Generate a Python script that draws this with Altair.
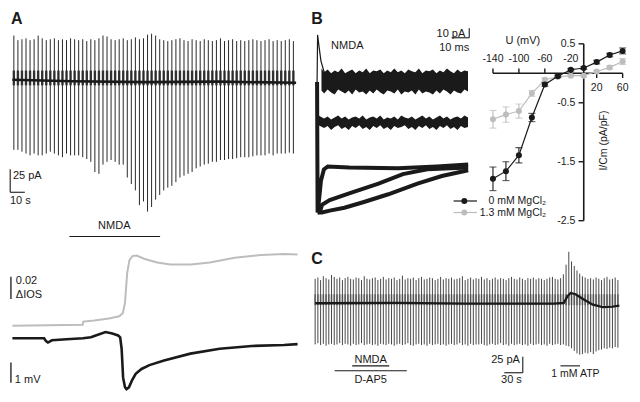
import altair as alt
import pandas as pd

# ---------------- layout helpers (reference pixel -> chart pixel) ----------------
W, H = 624, 386
SX, SY = W / 640.0, H / 402.0
def X(p): return p * SX
def Y(p): return p * SY

FONT = "Liberation Sans"
INK = "#1a1a1a"
GREY = "#bdbdbd"
ONE = pd.DataFrame({"k": [0]})

# ---------------- data ----------------
# Panel A (top): test-pulse currents, pA
A_PERIOD = 2.77  # s between pulses
a_tops = [50, 45, 46, 47, 45, 46, 50, 47, 45, 46, 47, 45, 46, 45, 47, 46, 45, 46, 44, 46,
          45, 47, 50, 49, 46, 45, 46, 47, 45, 46, 48, 46, 47, 51, 52, 50, 46, 45, 44, 45,
          46, 47, 45, 44, 46, 45, 44, 46, 45, 44, 45, 47, 44, 45, 46, 44, 45, 44, 45, 46,
          45, 44, 45, 46, 44, 45, 44, 45, 46, 44]
a_bottoms = [-74, -74, -76, -78, -80, -78, -80, -80, -78, -76, -78, -80, -82, -78, -80, -80, -80, -82, -84, -87,
             -98, -100, -90, -87, -85, -87, -90, -90, -104, -111, -118, -134, -130, -141, -136, -128, -123, -118, -115, -113,
             -109, -104, -102, -100, -98, -94, -92, -90, -89, -87, -87, -85, -85, -84, -84, -83, -82, -82, -82, -81,
             -80, -80, -80, -78, -80, -78, -78, -78, -77, -78]
a_base_t = [-1, 40, 90, 140, 193]
a_base_v = [2, 0.5, -0.5, 0, -1.2]

# Panel A (bottom): intrinsic optical signal and field potential
ios_t = [-1, 47, 47.5, 55, 65, 72, 74.5, 76, 77.5, 79, 81, 84, 89, 98, 107, 121, 134, 151, 169, 185, 194]
ios_v = [0, 0.001, 0.004, 0.005, 0.007, 0.009, 0.012, 0.022, 0.05, 0.062, 0.066, 0.0665, 0.0635,
         0.06, 0.058, 0.058, 0.06, 0.0645, 0.067, 0.068, 0.0675]
mv_t = [-1, 20.7, 22, 23.3, 26, 36, 47.3, 52.7, 56, 62.7, 67.3, 71.3, 72.7, 73.7, 74.7, 76, 77,
        78.7, 80.7, 83.3, 87.3, 92.7, 102.7, 120.7, 140.7, 162.7, 184.7, 194]
mv_v = [0, 0, -0.14, -0.21, -0.1, -0.05, 0, 0.05, 0.14, 0.31, 0.24, 0.14, 0.05, -0.52, -1.95, -2.43,
        -2.52, -2.43, -2.1, -1.76, -1.52, -1.33, -1.1, -0.76, -0.52, -0.38, -0.33, -0.29]

# Panel B: NMDA currents (ms, pA) - envelopes of the noisy sweeps
b_top_t = [2.5, 4, 6, 8, 10, 12, 14, 16, 18, 20, 22, 24, 26, 28, 30, 32, 34, 36, 38, 40, 42, 44,
           46, 48, 50, 52, 54, 56, 58, 60, 62, 64, 66, 68, 70, 72, 74, 76, 78, 80, 82, 84, 86]
b_top_hi = [14, 10, 13, 9, 12, 10, 14, 9, 11, 13, 9, 12, 10, 14, 9, 12, 11, 13, 9, 12, 10, 14,
            10, 12, 9, 13, 11, 10, 14, 9, 12, 11, 13, 9, 12, 10, 14, 11, 9, 13, 10, 12, 11]
b_top_lo = [-9, -12, -8, -11, -13, -8, -10, -12, -9, -13, -8, -11, -10, -13, -9, -12, -8, -11, -13, -9, -10, -12,
            -8, -13, -10, -11, -9, -13, -8, -12, -10, -11, -13, -9, -12, -8, -10, -13, -9, -11, -12, -8, -10]
b_mid_t = [0.8, 4, 6, 8, 10, 12, 14, 16, 18, 20, 22, 24, 26, 28, 30, 32, 34, 36, 38, 40, 42, 44,
           46, 48, 50, 52, 54, 56, 58, 60, 62, 64, 66, 68, 70, 72, 74, 76, 78, 80, 82, 84, 86]
b_mid_hi = [-35, -38, -36, -39, -37, -35, -38, -36, -39, -37, -36, -38, -35, -39, -37, -36, -38, -35, -39, -37, -38, -36,
            -39, -35, -37, -38, -36, -39, -37, -35, -38, -36, -39, -37, -35, -38, -36, -39, -37, -36, -38, -35, -37]
b_mid_lo = [-45, -48, -46, -50, -47, -45, -49, -47, -50, -46, -48, -45, -49, -47, -50, -46, -48, -45, -49, -47, -50, -46,
            -48, -47, -45, -49, -47, -50, -46, -48, -45, -49, -47, -50, -46, -48, -45, -49, -47, -50, -46, -48, -47]
b_tr_up_t = [0, 0.3, 1.1, 2.2, 3.9, 6.1]
b_tr_up_v = [0, 49, 37, 22, 11, 5]
b_tr1_t = [0, 0.3, 1.1, 2.2, 3.9, 6.1, 18.3, 46.1, 68.3, 86.1]
b_tr1_v = [0, -136, -123, -103, -91, -88, -89, -90, -88, -86]
b_tr2_t = [0.3, 1.7, 2.8, 7.2, 18.3, 35, 48.9, 62.8, 86.1]
b_tr2_v = [-136, -135, -128, -123, -116, -106, -96, -91, -89]
b_tr3_t = [0.3, 2.8, 7.2, 15.6, 26.7, 40.6, 57.2, 71.1, 86.1]
b_tr3_v = [-136, -136, -134, -131, -125, -117, -106, -98, -92]

# Panel B: I-V relation
iv_mv = [-140, -120, -100, -80, -60, -40, -20, 0, 20, 40, 60]
mg0_i = [-1.79, -1.66, -1.39, -0.75, -0.19, -0.05, 0.06, 0.09, 0.19, 0.31, 0.38]
mg0_e = [0.20, 0.16, 0.13, 0.07, 0.03, 0.02, 0.02, 0.02, 0.03, 0.03, 0.05]
mg13_i = [-0.78, -0.70, -0.64, -0.34, -0.11, -0.06, -0.04, -0.04, 0.03, 0.10, 0.20]
mg13_e = [0.15, 0.13, 0.12, 0.05, 0.03, 0.02, 0.02, 0.02, 0.02, 0.03, 0.05]
iv_xticks_neg = [-140, -100, -60, -20]
iv_xticks_pos = [20, 60]
iv_yticks = [0.5, -0.5, -1.5, -2.5]

# Panel C: test-pulse currents, pA
C_PERIOD = 4.42
c_tops = [38, 40, 36, 42, 39, 37, 44, 41, 38, 40, 36, 39, 41, 38, 37, 40, 39, 36, 42, 38,
          37, 39, 40, 36, 38, 41, 37, 39, 38, 40, 36, 38, 43, 37, 39, 38, 40, 36, 39, 41,
          37, 38, 40, 39, 36, 38, 41, 37, 39, 38, 40, 37, 38, 39, 42, 36, 38, 40, 37, 39,
          38, 41, 37, 39, 36, 38, 40, 37, 39, 38, 36, 39, 41, 38, 37, 40, 38, 36, 39, 38,
          40, 37, 39, 38, 36, 38, 40, 41, 38, 37, 39, 45, 60, 80, 65, 58, 51, 46, 42, 40,
          38, 39, 37, 40, 38, 36, 39, 41, 37, 38, 40, 36]
c_bottoms = [-64, -62, -65, -63, -66, -64, -63, -65, -64, -62, -65, -63, -64, -66, -63, -65, -64, -62, -65, -64,
             -63, -65, -64, -66, -63, -64, -65, -63, -64, -66, -64, -63, -65, -64, -62, -65, -66, -64, -63, -65,
             -64, -66, -63, -65, -64, -63, -65, -64, -66, -64, -63, -65, -64, -62, -65, -64, -66, -63, -65, -64,
             -64, -63, -65, -66, -64, -63, -65, -64, -62, -65, -64, -66, -63, -65, -64, -63, -65, -64, -66, -63,
             -65, -64, -63, -65, -64, -66, -63, -65, -64, -63, -65, -64, -66, -67, -70, -74, -78, -80, -79, -77,
             -78, -76, -79, -75, -73, -72, -70, -71, -69, -70, -68, -69]
c_base_t = [0, 134, 245, 387, 403, 409, 414, 422, 434, 450, 466, 482, 493]
c_base_v = [0, 0.7, -0.7, -0.7, 0.7, 11, 16, 14, 6.7, -2.2, -6, -5.2, -3.7]


# ---------------- helpers ----------------
def sc(domain, r0, r1):
    return alt.Scale(domain=domain, range=[r0, r1], nice=False, zero=False)


def label(txt, x, y, size=10.5, align="left", baseline="middle", weight="normal", angle=0, color=INK):
    kw = dict(text=txt, fontSize=size, align=align, baseline=baseline, font=FONT,
              fontWeight=weight, color=color)
    if angle:
        kw["angle"] = angle
    return alt.Chart(ONE).mark_text(**kw).encode(x=alt.value(X(x)), y=alt.value(Y(y)))


def hbar(x0, x1, y, color=INK, sw=1.1):
    return alt.Chart(ONE).mark_rule(color=color, strokeWidth=sw).encode(
        x=alt.value(X(x0)), x2=alt.value(X(x1)), y=alt.value(Y(y)))


layers = []

# ---------------- Panel A top ----------------
ax = sc([-3, 195], X(1.5), X(298.5))
ay = sc([-160, 60], Y(230.3), Y(19.1))
dfA = pd.DataFrame({"t": [i * A_PERIOD for i in range(len(a_tops))], "top": a_tops, "bot": a_bottoms})
a_sp = alt.Chart(dfA).mark_rule(color="#2b2b2b", strokeWidth=1).encode(
    x=alt.X("t:Q", scale=ax, axis=None), y=alt.Y("bot:Q", scale=ay, axis=None), y2="top:Q")
a_comb = alt.Chart(dfA).mark_rule(color="#3a3a3a", strokeWidth=2.4).encode(
    x=alt.X("t:Q", scale=ax, axis=None), y=alt.YDatum(-4, scale=ay, axis=None), y2=alt.Y2Datum(12))
a_base = alt.Chart(pd.DataFrame({"t": a_base_t, "v": a_base_v})).mark_line(color=INK, strokeWidth=2.6).encode(
    x=alt.X("t:Q", scale=ax, axis=None), y=alt.Y("v:Q", scale=ay, axis=None))
a_sb = alt.Chart(pd.DataFrame({"x": [-2.5, -2.5], "x2": [-2.5, 7.5], "y": [-95, -120], "y2": [-120, -120]})).mark_rule(
    color=INK, strokeWidth=1.1).encode(
    x=alt.X("x:Q", scale=ax, axis=None), x2="x2:Q", y=alt.Y("y:Q", scale=ay, axis=None), y2="y2:Q")
a_nmda = alt.Chart(pd.DataFrame({"x": [38], "x2": [100]})).mark_rule(color=INK, strokeWidth=1.1).encode(
    x=alt.X("x:Q", scale=ax, axis=None), x2="x2:Q", y=alt.value(Y(238)))
layers.append(alt.layer(a_comb, a_sp, a_base, a_sb, a_nmda).resolve_scale(x="shared", y="shared"))

# ---------------- Panel A bottom: IOS ----------------
iy = sc([0, 0.08], Y(331), Y(243))
ios = alt.Chart(pd.DataFrame({"t": ios_t, "v": ios_v})).mark_line(color=GREY, strokeWidth=2).encode(
    x=alt.X("t:Q", scale=ax, axis=None), y=alt.Y("v:Q", scale=iy, axis=None))
ios_sb = alt.Chart(pd.DataFrame({"x": [-2], "y": [0.0255], "y2": [0.0465]})).mark_rule(color=INK, strokeWidth=1.3).encode(
    x=alt.X("x:Q", scale=ax, axis=None), y=alt.Y("y:Q", scale=iy, axis=None), y2="y2:Q")
layers.append(alt.layer(ios, ios_sb).resolve_scale(x="shared", y="shared"))

# ---------------- Panel A bottom: mV ----------------
my = sc([-3, 1], Y(407), Y(323))
mv = alt.Chart(pd.DataFrame({"t": mv_t, "v": mv_v})).mark_line(color=INK, strokeWidth=2.6).encode(
    x=alt.X("t:Q", scale=ax, axis=None), y=alt.Y("v:Q", scale=my, axis=None))
mv_sb = alt.Chart(pd.DataFrame({"x": [-2], "y": [-1.2], "y2": [-2.2]})).mark_rule(color=INK, strokeWidth=1.3).encode(
    x=alt.X("x:Q", scale=ax, axis=None), y=alt.Y("y:Q", scale=my, axis=None), y2="y2:Q")
layers.append(alt.layer(mv, mv_sb).resolve_scale(x="shared", y="shared"))

# ---------------- Panel B traces ----------------
bx = sc([-5, 90], X(308), X(479))
by = sc([-150, 50], Y(227), Y(27))
def bline(ts, vs, sw):
    return alt.Chart(pd.DataFrame({"t": ts, "v": vs})).mark_line(color=INK, strokeWidth=sw).encode(
        x=alt.X("t:Q", scale=bx, axis=None), y=alt.Y("v:Q", scale=by, axis=None))
def bband(ts, hi, lo):
    return alt.Chart(pd.DataFrame({"t": ts, "hi": hi, "lo": lo})).mark_area(color=INK).encode(
        x=alt.X("t:Q", scale=bx, axis=None), y=alt.Y("hi:Q", scale=by, axis=None), y2="lo:Q")
b_sb = alt.Chart(pd.DataFrame({"x": [86.7, 76.7], "x2": [86.7, 86.7], "y": [56, 46], "y2": [46, 46]})).mark_rule(
    color=INK, strokeWidth=1.1).encode(
    x=alt.X("x:Q", scale=bx, axis=None), x2="x2:Q", y=alt.Y("y:Q", scale=by, axis=None), y2="y2:Q")
layers.append(alt.layer(
    bband(b_top_t, b_top_hi, b_top_lo), bband(b_mid_t, b_mid_hi, b_mid_lo),
    bline(b_tr_up_t, b_tr_up_v, 1.2), bline(b_tr1_t, b_tr1_v, 4), bline(b_tr2_t, b_tr2_v, 4),
    bline(b_tr3_t, b_tr3_v, 4), b_sb).resolve_scale(x="shared", y="shared"))

# ---------------- Panel B: I-V plot ----------------
vx = sc([-140, 60], X(497.4), X(630.4))
vy = sc([-2.5, 0.5], Y(221.5), Y(37.3))
XE = dict(scale=vx, axis=None)
YE = dict(scale=vy, axis=None)
axis_lines = alt.Chart(pd.DataFrame({"x": [-140, 0], "x2": [60, 0], "y": [0, -2.5], "y2": [0, 0.5]})).mark_rule(
    color=INK, strokeWidth=1.6).encode(x=alt.X("x:Q", **XE), x2="x2:Q", y=alt.Y("y:Q", **YE), y2="y2:Q")
xt_neg = alt.Chart(pd.DataFrame({"v": iv_xticks_neg})).mark_rule(color=INK, strokeWidth=1.4).encode(
    x=alt.X("v:Q", **XE), y=alt.YDatum(0, **YE), y2=alt.Y2Datum(0.08))
xt_pos = alt.Chart(pd.DataFrame({"v": iv_xticks_pos})).mark_rule(color=INK, strokeWidth=1.4).encode(
    x=alt.X("v:Q", **XE), y=alt.YDatum(0, **YE), y2=alt.Y2Datum(-0.08))
yt = alt.Chart(pd.DataFrame({"v": iv_yticks})).mark_rule(color=INK, strokeWidth=1.4).encode(
    y=alt.Y("v:Q", **YE), x=alt.XDatum(-8, **XE), x2=alt.X2Datum(0))
xl_neg = alt.Chart(pd.DataFrame({"v": iv_xticks_neg, "s": [str(v) for v in iv_xticks_neg]})).mark_text(
    font=FONT, fontSize=10.5, color=INK, baseline="middle").encode(
    x=alt.X("v:Q", **XE), y=alt.YDatum(0.245, **YE), text="s:N")
xl_pos = alt.Chart(pd.DataFrame({"v": iv_xticks_pos, "s": [str(v) for v in iv_xticks_pos]})).mark_text(
    font=FONT, fontSize=10.5, color=INK, baseline="middle").encode(
    x=alt.X("v:Q", **XE), y=alt.YDatum(-0.255, **YE), text="s:N")
yl = alt.Chart(pd.DataFrame({"v": iv_yticks, "s": [str(v) for v in iv_yticks]})).mark_text(
    font=FONT, fontSize=10.5, color=INK, baseline="middle", align="right").encode(
    y=alt.Y("v:Q", **YE), x=alt.XDatum(-13, **XE), text="s:N")

def series(vals, errs, color):
    df = pd.DataFrame({"u": iv_mv, "i": vals, "lo": [v - e for v, e in zip(vals, errs)],
                       "hi": [v + e for v, e in zip(vals, errs)]})
    base = alt.Chart(df)
    line = base.mark_line(color=color, strokeWidth=1.2).encode(x=alt.X("u:Q", **XE), y=alt.Y("i:Q", **YE))
    err = base.mark_rule(color=color, strokeWidth=1.1).encode(x=alt.X("u:Q", **XE), y=alt.Y("lo:Q", **YE), y2="hi:Q")
    cap_lo = base.mark_tick(color=color, orient="horizontal", size=7, thickness=1.1).encode(
        x=alt.X("u:Q", **XE), y=alt.Y("lo:Q", **YE))
    cap_hi = base.mark_tick(color=color, orient="horizontal", size=7, thickness=1.1).encode(
        x=alt.X("u:Q", **XE), y=alt.Y("hi:Q", **YE))
    pts = base.mark_circle(color=color, size=36, opacity=1).encode(x=alt.X("u:Q", **XE), y=alt.Y("i:Q", **YE))
    return [line, err, cap_lo, cap_hi, pts]

layers.append(alt.layer(axis_lines, xt_neg, xt_pos, yt, xl_neg, xl_pos, yl,
                        *series(mg13_i, mg13_e, GREY), *series(mg0_i, mg0_e, INK)
                        ).resolve_scale(x="shared", y="shared"))

# legend of the I-V plot
for yy, col, txt in [(201, INK, "0 mM MgCl₂"), (213, GREY, "1.3 mM MgCl₂")]:
    layers.append(hbar(457, 481, yy, color=col, sw=1.2))
    layers.append(alt.Chart(ONE).mark_circle(color=col, size=36, opacity=1).encode(
        x=alt.value(X(468)), y=alt.value(Y(yy))))
    layers.append(label(txt, 552, yy, size=10.5, align="right"))

# ---------------- Panel C ----------------
cx = sc([-10, 510], X(308.7), X(637.8))
cy = sc([-100, 100], Y(374.5), Y(240.5))
dfC = pd.DataFrame({"t": [i * C_PERIOD for i in range(len(c_tops))], "top": c_tops, "bot": c_bottoms})
c_comb = alt.Chart(dfC).mark_rule(color="#8c8c8c", strokeWidth=1.8).encode(
    x=alt.X("t:Q", scale=cx, axis=None), y=alt.YDatum(-3, scale=cy, axis=None), y2=alt.Y2Datum(14))
c_sp = alt.Chart(dfC).mark_rule(color="#4a4a4a", strokeWidth=1).encode(
    x=alt.X("t:Q", scale=cx, axis=None), y=alt.Y("bot:Q", scale=cy, axis=None), y2="top:Q")
c_base = alt.Chart(pd.DataFrame({"t": c_base_t, "v": c_base_v})).mark_line(color=INK, strokeWidth=2.3).encode(
    x=alt.X("t:Q", scale=cx, axis=None), y=alt.Y("v:Q", scale=cy, axis=None))
c_bars = alt.Chart(pd.DataFrame({"x": [336.5, 306.5, 60, 31.6, 397.6], "x2": [336.5, 336.5, 120, 148.5, 429.2],
                                 "y": [-83, -108, -97.3, -104.8, -97.3], "y2": [-108, -108, -97.3, -104.8, -97.3]})
                   ).mark_rule(color=INK, strokeWidth=1.1).encode(
    x=alt.X("x:Q", scale=cx, axis=None), x2="x2:Q", y=alt.Y("y:Q", scale=cy, axis=None), y2="y2:Q")
layers.append(alt.layer(c_comb, c_sp, c_base, c_bars).resolve_scale(x="shared", y="shared"))

# ---------------- text annotations ----------------
layers += [
    label("A", 3, 17, size=16, weight="bold", baseline="alphabetic"),
    label("B", 311, 17, size=16, weight="bold", baseline="alphabetic"),
    label("C", 311, 267, size=16, weight="bold", baseline="alphabetic"),
    label("25 pA", 5, 175, size=11),
    label("10 s", 2, 201, size=11),
    label("NMDA", 109, 227, size=11, align="center"),
    label("0.02", 8, 284, size=11),
    label("ΔIOS", 8, 299, size=11),
    label("1 mV", 7, 387, size=11),
    label("NMDA", 348, 40, size=11, align="center"),
    label("10 pA", 469, 27, size=11, align="right"),
    label("10 ms", 473, 42, size=11, align="right"),
    label("U (mV)", 528, 34, size=11, align="center"),
    label("I/Cm (pA/pF)", 611, 138, size=10.5, align="center", angle=270),
    label("NMDA", 372, 366.7, size=11, align="center"),
    label("D-AP5", 372, 387, size=11, align="center"),
    label("25 pA", 525, 367, size=11, align="right"),
    label("30 s", 527, 387, size=11, align="right"),
    label("1 mM ATP", 582, 381.5, size=10.5, align="center"),
]

chart = alt.layer(*layers).resolve_scale(x="independent", y="independent").properties(
    width=W, height=H, padding=0, autosize=alt.AutoSizeParams(type="none")
).configure_view(stroke=None)

chart.save("out.html", embed_options={"renderer": "svg", "actions": False})
